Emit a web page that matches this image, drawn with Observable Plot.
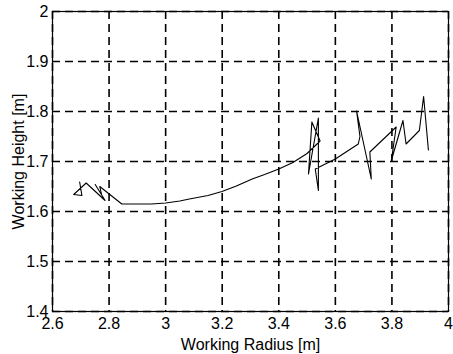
<!DOCTYPE html>
<html>
<head>
<meta charset="utf-8">
<script src="https://cdn.jsdelivr.net/npm/d3@7"></script>
<script src="https://cdn.jsdelivr.net/npm/@observablehq/plot@0.6"></script>
<style>
  html, body { margin: 0; padding: 0; background: #fff; }
  #chart { width: 453px; height: 354px; }
</style>
</head>
<body>
<div id="chart"></div>
<script>
// Trajectory (working radius [m], working height [m])
const radius = [
  2.696, 2.704, 2.675, 2.719, 2.786, 2.751, 2.774, 2.767, 2.845, 2.909,
  2.950, 3.000, 3.050, 3.084, 3.150, 3.199, 3.250, 3.306, 3.350, 3.400, 3.450, 3.500, 3.546,
  3.517, 3.505, 3.540, 3.540, 3.529, 3.600, 3.681, 3.687,
  3.675, 3.727, 3.722, 3.815, 3.798, 3.839, 3.850, 3.897, 3.912, 3.929
];
const height = [
  1.659, 1.632, 1.634, 1.657, 1.622, 1.654, 1.633, 1.650, 1.615, 1.615,
  1.615, 1.617, 1.621, 1.625, 1.632, 1.640, 1.651, 1.665, 1.674, 1.685, 1.698, 1.716, 1.741,
  1.779, 1.675, 1.787, 1.642, 1.685, 1.705, 1.735, 1.750,
  1.801, 1.665, 1.719, 1.769, 1.702, 1.782, 1.735, 1.762, 1.830, 1.723
];
const xTicks = [2.6, 2.8, 3.0, 3.2, 3.4, 3.6, 3.8, 4.0];
const yTicks = [1.4, 1.5, 1.6, 1.7, 1.8, 1.9, 2.0];
const xLabel = "Working Radius [m]";
const yLabel = "Working Height [m]";

const data = radius.map((r, i) => ({r, h: height[i]}));
const fmt = d => String(+d.toFixed(1));

const chart = Plot.plot({
  width: 453,
  height: 354,
  marginLeft: 52,
  marginRight: 5,
  marginTop: 11,
  marginBottom: 43,
  style: {fontFamily: "'Liberation Sans', Arial, sans-serif", fontSize: "16px", color: "black", background: "white"},
  x: {domain: [2.6, 4.0]},
  y: {domain: [1.4, 2.0]},
  marks: [
    Plot.gridX(xTicks, {stroke: "black", strokeOpacity: 1, strokeWidth: 1.6, strokeDasharray: "8,5"}),
    Plot.gridY(yTicks, {stroke: "black", strokeOpacity: 1, strokeWidth: 1.6, strokeDasharray: "8,5"}),
    Plot.frame({stroke: "black", strokeWidth: 1.2}),
    Plot.axisX(xTicks, {tickSize: 0, tickPadding: 6, tickFormat: fmt, label: xLabel, labelAnchor: "center", labelArrow: "none", labelOffset: 38, fontSize: 16}),
    Plot.axisY(yTicks, {tickSize: 0, tickPadding: 4, tickFormat: fmt, label: yLabel, labelAnchor: "center", labelArrow: "none", labelOffset: 40, fontSize: 16}),
    Plot.line(data, {x: "r", y: "h", stroke: "black", strokeWidth: 1.1, curve: "linear"})
  ]
});
document.getElementById("chart").appendChild(chart);
</script>
</body>
</html>
